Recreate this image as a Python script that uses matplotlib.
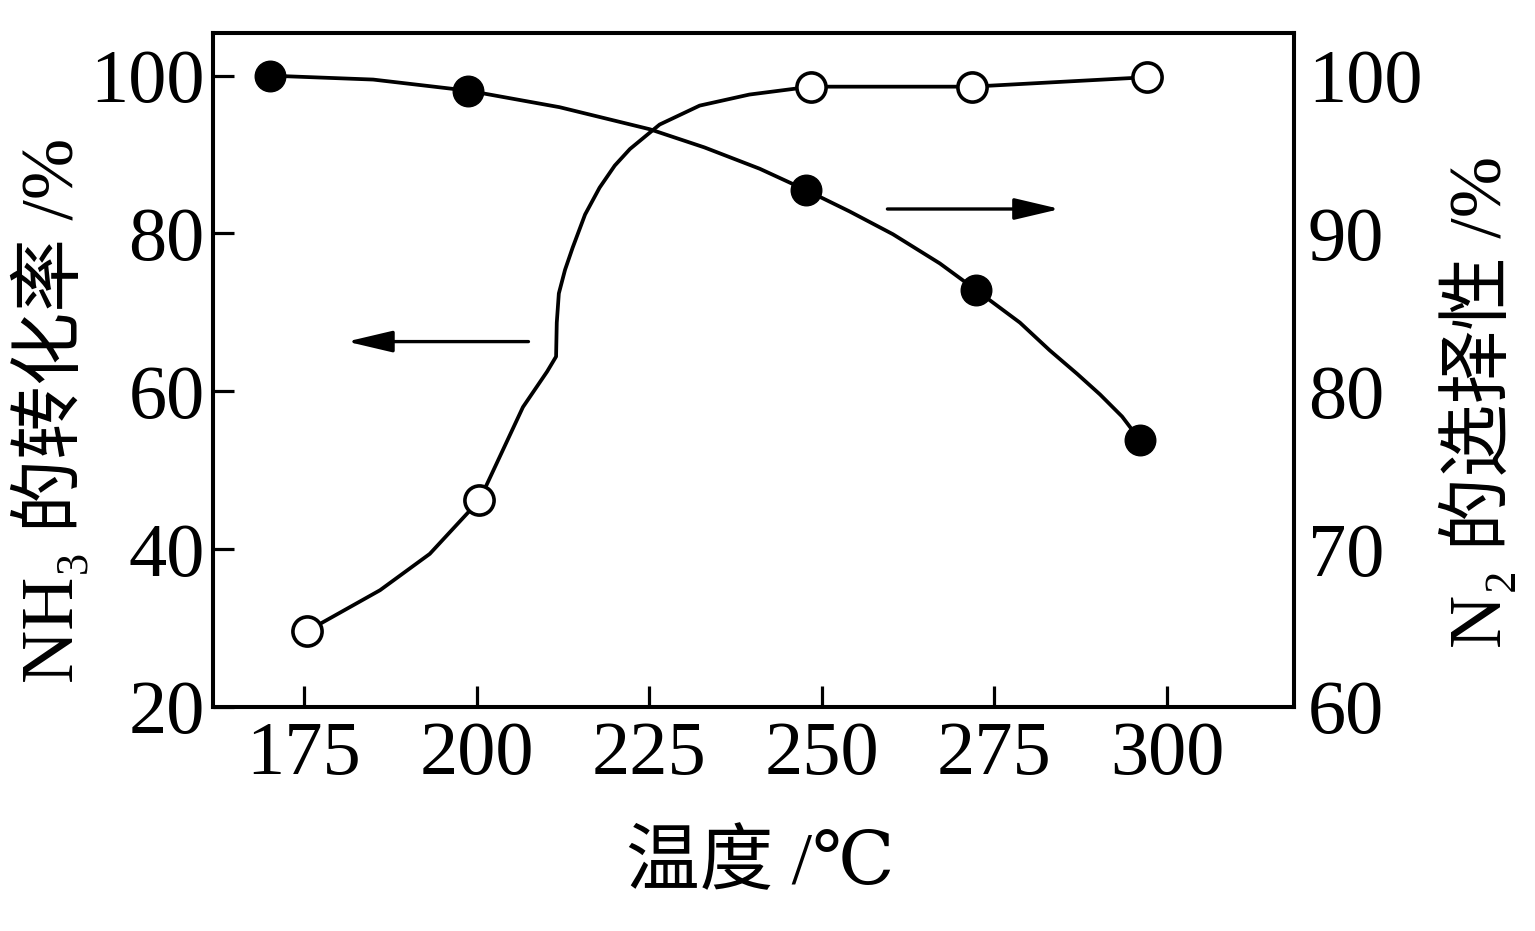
import matplotlib
matplotlib.use("Agg")
import matplotlib.pyplot as plt

# ---------------- data ----------------
# NH3 conversion (left axis), filled markers
conv_temp = [170.0, 198.7, 247.7, 272.4, 296.1]
conv_val = [100.0, 98.1, 85.5, 72.8, 53.8]
# hand-drawn trend line of conversion
conv_curve_temp = [170.0, 185.0, 198.7, 212.0, 225.1, 233.0, 241.0, 247.7,
                   254.0, 260.3, 267.1, 272.4, 278.7, 283.0, 287.0, 290.3,
                   293.5, 296.1]
conv_curve_val = [100.0, 99.5, 98.1, 96.0, 93.2, 90.9, 88.2, 85.5,
                  82.8, 79.9, 76.2, 72.8, 68.7, 65.2, 62.2, 59.6,
                  56.8, 53.8]

# N2 selectivity (right axis), open markers
sel_temp = [175.4, 200.4, 248.4, 271.7, 297.1]
sel_val = [64.8, 73.1, 99.3, 99.3, 99.9]
# hand-drawn trend line of selectivity
sel_curve_temp = [175.4, 186.0, 193.2, 200.4, 206.7, 210.2, 211.5, 211.6,
                  211.9, 212.8, 213.9, 215.7, 217.8, 220.0, 222.2, 226.5,
                  232.3, 239.5, 248.4, 271.7, 297.1]
sel_curve_val = [64.8, 67.4, 69.7, 73.1, 79.0, 81.25, 82.2, 84.35,
                 86.2, 87.7, 89.1, 91.2, 92.9, 94.3, 95.35, 96.9,
                 98.1, 98.8, 99.3, 99.3, 99.9]

x_ticks = [175, 200, 225, 250, 275, 300]
left_ticks = [20, 40, 60, 80, 100]
right_ticks = [60, 70, 80, 90, 100]

x_label = "温度 /℃"
left_label = "NH₃ 的转化率 /%"
right_label = "N₂ 的选择性 /%"

# arrows (start -> end), in data coordinates of the left axis
arrow_left = ((207.5, 66.3), (181.2, 66.3))
arrow_right = ((259.5, 83.1), (284.5, 83.1))

# ---------------- styling ----------------
SERIF = ["Liberation Serif", "DejaVu Serif", "Noto Sans CJK SC"]
MIXED = ["Liberation Serif", "DejaVu Serif", "Noto Sans CJK SC"]
plt.rcParams["font.family"] = SERIF

W, H = 1535, 931
fig = plt.figure(figsize=(W / 100, H / 100), dpi=100)
ax = fig.add_axes([213 / W, 1 - 707 / H, (1294 - 213) / W, (707 - 33) / H])
ax2 = ax.twinx()

xlim = (161.8, 318.4)
ylim_left = (20.0, 105.4)
ylim_right = (ylim_left[0] / 2 + 50, ylim_left[1] / 2 + 50)

lw = 2.7
ms = 22

# conversion
ax.plot(conv_curve_temp, conv_curve_val, color="black", lw=lw, zorder=2,
        solid_joinstyle="round", solid_capstyle="round")
ax.plot(conv_temp, conv_val, linestyle="none", marker="o", ms=ms,
        mfc="black", mec="black", zorder=3)

# selectivity
ax2.plot(sel_curve_temp, sel_curve_val, color="black", lw=lw, zorder=2,
         solid_joinstyle="round", solid_capstyle="round")
ax2.plot(sel_temp, sel_val, linestyle="none", marker="o", ms=ms - 1,
         mfc="white", mec="black", mew=2.6, zorder=3)

# arrows
for (start, end) in (arrow_left, arrow_right):
    ax.annotate("", xy=end, xytext=start, xycoords="data",
                arrowprops=dict(arrowstyle="-|>,head_length=1.4,head_width=0.33",
                                color="black", lw=2.4, mutation_scale=20,
                                shrinkA=0, shrinkB=0))

ax.set_xlim(*xlim)
ax.set_ylim(*ylim_left)
ax2.set_ylim(*ylim_right)
ax.set_xticks(x_ticks)
ax.set_yticks(left_ticks)
ax2.set_yticks(right_ticks)

for a in (ax, ax2):
    for s in a.spines.values():
        s.set_linewidth(2.9)

ax.tick_params(axis="x", direction="in", length=15, width=2.3, pad=10,
               labelsize=55, top=False)
ax.tick_params(axis="y", direction="in", length=15, width=2.3, pad=6,
               labelsize=55, right=False)
ax2.tick_params(axis="y", direction="in", length=0, width=0, pad=10,
                labelsize=55)

for lab in ax.get_xticklabels() + ax.get_yticklabels() + ax2.get_yticklabels():
    lab.set_family(SERIF)

fig.text(760 / W, 1 - 866 / H, x_label, ha="center", va="center",
         fontsize=53, family=MIXED)
fig.text(50 / W, 1 - 410 / H, left_label, ha="center", va="center",
         rotation=90, fontsize=53, family=MIXED)
fig.text(1478 / W, 1 - 402 / H, right_label, ha="center", va="center",
         rotation=90, fontsize=53, family=MIXED)

fig.savefig("out.png", dpi=100)
